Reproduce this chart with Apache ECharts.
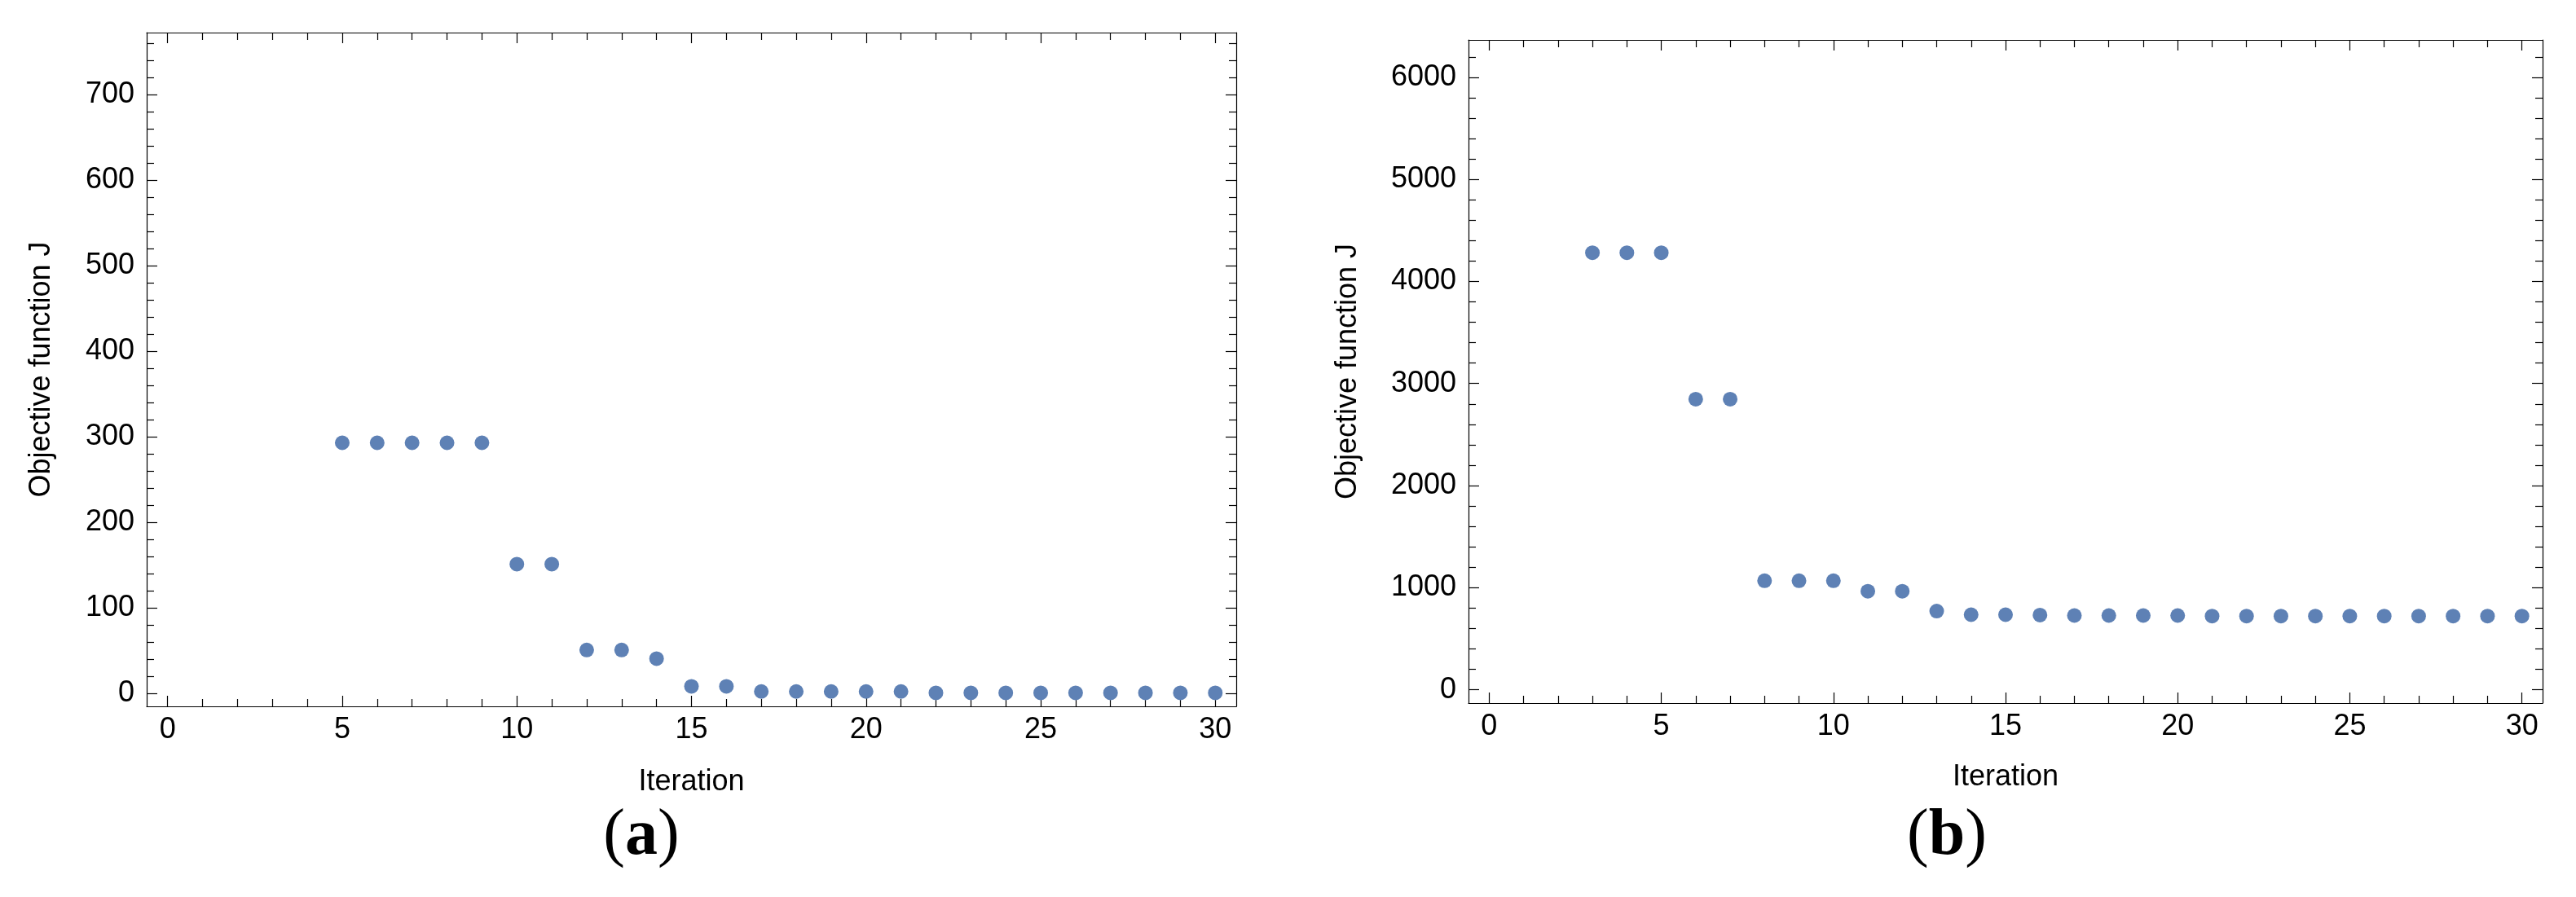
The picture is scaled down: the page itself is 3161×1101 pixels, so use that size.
<!DOCTYPE html>
<html>
<head>
<meta charset="utf-8">
<title>Objective function J vs iteration</title>
<script src="https://cdn.jsdelivr.net/npm/echarts@6/dist/echarts.min.js"></script>
<style>
  html, body { margin: 0; padding: 0; background: #fff; }
  #chart { width: 3161px; height: 1101px; }
</style>
</head>
<body>
<div id="chart"></div>
<script>
// panel (a)
const iterA = [5, 6, 7, 8, 9, 10, 11, 12, 13, 14, 15, 16, 17, 18, 19, 20, 21, 22, 23, 24, 25, 26, 27, 28, 29, 30]
const objA = [293, 293, 293, 293, 293, 151, 151, 50.5, 50.5, 40.4, 8, 8, 2, 2, 2, 2, 2, 0.4, 0.4, 0.4, 0.4, 0.4, 0.4, 0.4, 0.4, 0.4]

// panel (b)
const iterB = [3, 4, 5, 6, 7, 8, 9, 10, 11, 12, 13, 14, 15, 16, 17, 18, 19, 20, 21, 22, 23, 24, 25, 26, 27, 28, 29, 30]
const objB = [4281, 4281, 4281, 2847, 2847, 1068, 1068, 1068, 965, 965, 770, 735, 735, 732, 727, 727, 727, 727, 722, 722, 722, 722, 722, 722, 722, 722, 722, 722]

// tick labels
const xTicks = [0, 5, 10, 15, 20, 25, 30]
const yTicksA = [0, 100, 200, 300, 400, 500, 600, 700]
const yTicksB = [0, 1000, 2000, 3000, 4000, 5000, 6000]

const panelLabels = ['a', 'b']
const xName = 'Iteration'
const yName = 'Objective function J'

const SANS = 'Liberation Sans'
const SERIF = 'Liberation Serif'
const DOT = '#5e81b5'

// minor ticks between the labelled ones
const minorTicks = (from, to, step, majors) => {
  const out = []
  for (let v = from; v <= to + 1e-9; v += step) {
    if (!majors.includes(v)) out.push(v)
  }
  return out
}

// one frame side: labelled major ticks + a second axis for minor ticks
const sideAxes = (grid, position, range, majors, minors, opts) => {
  const base = {
    type: 'value',
    gridIndex: grid,
    position: position,
    min: range[0],
    max: range[1],
    splitLine: { show: false },
    axisPointer: { show: false }
  }
  const major = Object.assign({}, base, {
    axisLine: { show: true, onZero: false, lineStyle: { color: '#000', width: 1.2 } },
    axisTick: { show: true, inside: true, length: 13, customValues: majors, lineStyle: { color: '#000', width: 1.2 } },
    axisLabel: {
      show: !!opts.labels,
      customValues: majors,
      margin: opts.margin || 12,
      color: '#000',
      fontFamily: SANS,
      fontSize: 36,
      formatter: v => String(v)
    }
  })
  if (opts.name) {
    major.name = opts.name
    major.nameLocation = 'middle'
    major.nameGap = opts.nameGap
    major.nameTextStyle = { color: '#000', fontFamily: SANS, fontSize: 36 }
  }
  const minor = Object.assign({}, base, {
    axisLine: { show: false, onZero: false },
    axisTick: { show: true, inside: true, length: 9, customValues: minors, lineStyle: { color: '#000', width: 1.2 } },
    axisLabel: { show: false }
  })
  return [major, minor]
}

const grids = [
  { left: 180, top: 40, width: 1337, height: 827, outerBoundsMode: 'none', containLabel: false },
  { left: 1802, top: 49, width: 1318, height: 814, outerBoundsMode: 'none', containLabel: false }
]

const xRange = [-0.6, 30.6]
const yRangeA = [-15.4, 773]
const yRangeB = [-131, 6366]

const xMinor = minorTicks(0, 30, 1, xTicks)
const yMinorA = minorTicks(-0, 760, 20, yTicksA)
const yMinorB = minorTicks(0, 6200, 200, yTicksB)

const xAxes = [
  // index 0..3 -> panel a, 4..7 -> panel b
  ...sideAxes(0, 'bottom', xRange, xTicks, xMinor, { labels: true, margin: 11, name: xName, nameGap: 75 }),
  ...sideAxes(0, 'top', xRange, xTicks, xMinor, {}),
  ...sideAxes(1, 'bottom', xRange, xTicks, xMinor, { labels: true, margin: 11, name: xName, nameGap: 73 }),
  ...sideAxes(1, 'top', xRange, xTicks, xMinor, {})
]

const yAxes = [
  ...sideAxes(0, 'left', yRangeA, yTicksA, yMinorA, { labels: true, margin: 15, name: yName, nameGap: 111 }),
  ...sideAxes(0, 'right', yRangeA, yTicksA, yMinorA, {}),
  ...sideAxes(1, 'left', yRangeB, yTicksB, yMinorB, { labels: true, margin: 15, name: yName, nameGap: 130 }),
  ...sideAxes(1, 'right', yRangeB, yTicksB, yMinorB, {})
]

const dotSeries = (xs, ys, xIdx, yIdx) => ({
  type: 'scatter',
  xAxisIndex: xIdx,
  yAxisIndex: yIdx,
  symbol: 'circle',
  symbolSize: 18,
  itemStyle: { color: DOT, opacity: 1 },
  data: xs.map((x, i) => [x, ys[i]])
})

// "(a)" / "(b)" captions under each panel
const caption = (letter, x) => ({
  type: 'text',
  x: x,
  y: 1027,
  style: {
    text: '{p|(}{b|' + letter + '}{p|)}',
    align: 'center',
    verticalAlign: 'middle',
    rich: {
      p: { fontFamily: SERIF, fontSize: 80, fill: '#000', fontWeight: 'normal' },
      b: { fontFamily: SERIF, fontSize: 80, fill: '#000', fontWeight: 'bold' }
    }
  }
})

const chart = echarts.init(document.getElementById('chart'), null, { renderer: 'canvas' })

chart.setOption({
  animation: false,
  backgroundColor: '#fff',
  grid: grids,
  xAxis: xAxes,
  yAxis: yAxes,
  series: [
    dotSeries(iterA, objA, 0, 0),
    dotSeries(iterB, objB, 4, 4)
  ],
  graphic: [
    caption(panelLabels[0], 787),
    caption(panelLabels[1], 2389)
  ]
})
</script>
</body>
</html>
